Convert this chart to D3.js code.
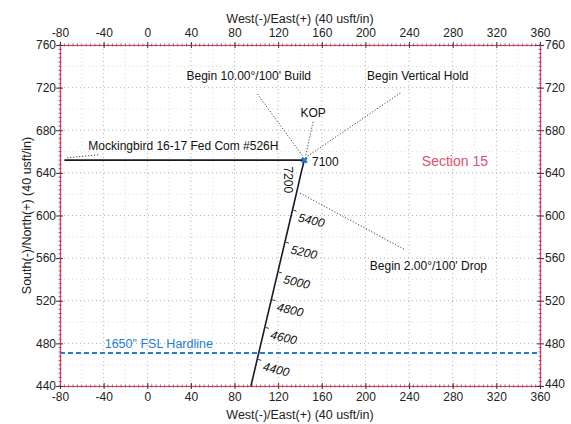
<!DOCTYPE html>
<html><head><meta charset="utf-8">
<script src="https://cdn.jsdelivr.net/npm/d3@7"></script>
<style>
body{margin:0;background:#fff;}
svg{display:block;font-family:"Liberation Sans",Arial,sans-serif;}
</style></head><body>
<svg id="c" width="571" height="424"></svg>
<script>
// ---- data ----
const xTicks = [-80,-40,0,40,80,120,160,200,240,280,320,360];
const yTicks = [440,480,520,560,600,640,680,720,760];
const wellPath = [[95,440],[137,622],[141,640],[144,652],[-76,652]];
const kop = [144,652];
const mdLabels = ["4400","4600","4800","5000","5200","5400"];
const mdNorth = [465,495,521,547,575,605];
const hardlineNorth = 471;
const annotations = [
  {text:"Begin 10.00°/100' Build", x:93, y:727, anchor:"middle", lx1:101, ly1:714, lx2:143, ly2:655},
  {text:"Begin Vertical Hold", x:248, y:727, anchor:"middle", lx1:232, ly1:715, lx2:146, ly2:655},
  {text:"KOP", x:152, y:692, anchor:"middle", lx1:152, ly1:688, lx2:145, ly2:655},
  {text:"Mockingbird 16-17 Fed Com #526H", x:-54, y:661, anchor:"start", lx1:-45, ly1:657, lx2:-75, ly2:654},
  {text:"Begin 2.00°/100' Drop", x:204, y:549, anchor:"start", lx1:140, ly1:621, lx2:236, ly2:568}
];

// ---- layout ----
const svg = d3.select("#c");
const L=60, R=540, T=45, B=386;
const x = d3.scaleLinear().domain([-80,360]).range([L,R]);
const y = d3.scaleLinear().domain([440,760]).range([B,T]);

// grid
const g = svg.append("g");
const minorX = d3.range(-80,361,20), minorY = d3.range(440,761,20);
g.selectAll(".gx").data(minorX).join("line")
  .attr("x1",d=>x(d)).attr("x2",d=>x(d)).attr("y1",T).attr("y2",B)
  .attr("stroke",d=>d%40===0?"#a0a0a0":"#d6d6d6").attr("stroke-width",0.8).attr("stroke-dasharray","1,3");
g.selectAll(".gy").data(minorY).join("line")
  .attr("y1",d=>y(d)).attr("y2",d=>y(d)).attr("x1",L).attr("x2",R)
  .attr("stroke",d=>d%40===0?"#a0a0a0":"#d6d6d6").attr("stroke-width",0.8).attr("stroke-dasharray","1,3");

// hardline
svg.append("line").attr("x1",L).attr("x2",R).attr("y1",y(hardlineNorth)).attr("y2",y(hardlineNorth))
  .attr("stroke","#1f7fd0").attr("stroke-width",2).attr("stroke-dasharray","5,3");
svg.append("text").attr("x",x(-39)).attr("y",y(475.5)).attr("fill","#1f7fd0")
  .attr("font-size",12.5).text("1650\" FSL Hardline");

// axes frame
const fmt = d => String(d);
const axB = d3.axisBottom(x).tickValues(xTicks).tickFormat(fmt).tickSize(4).tickSizeOuter(0);
const axT = d3.axisTop(x).tickValues(xTicks).tickFormat(fmt).tickSize(4).tickSizeOuter(0);
const axL = d3.axisLeft(y).tickValues(yTicks).tickFormat(fmt).tickSize(5).tickSizeOuter(0);
const axR = d3.axisRight(y).tickValues(yTicks).tickFormat(fmt).tickSize(5).tickSizeOuter(0);
function styleAxis(sel){
  sel.select(".domain").attr("stroke","#d04060").attr("stroke-width",1.2);
  sel.selectAll(".tick line").attr("stroke","#333");
  sel.selectAll(".tick text").attr("fill","#222").attr("font-size",12).attr("font-family","Liberation Sans, Arial, sans-serif");
}
const gb = svg.append("g").attr("transform",`translate(0,${B})`).call(axB); styleAxis(gb);
gb.selectAll(".tick line").attr("y1",-3).attr("y2",3);
gb.selectAll(".tick text").attr("dy","0.55em").attr("y",8);
const gt = svg.append("g").attr("transform",`translate(0,${T})`).call(axT); styleAxis(gt);
gt.selectAll(".tick line").attr("y1",3).attr("y2",-3);
gt.selectAll(".tick text").attr("y",-8);
const gl = svg.append("g").attr("transform",`translate(${L},0)`).call(axL); styleAxis(gl);
gl.selectAll(".tick line").attr("x1",3).attr("x2",-4);
gl.selectAll(".tick text").attr("x",-4);
const gr = svg.append("g").attr("transform",`translate(${R},0)`).call(axR); styleAxis(gr);
gr.selectAll(".tick line").attr("x1",-3).attr("x2",4);
gr.selectAll(".tick text").attr("x",5);
gr.selectAll(".tick").filter(d=>d===440).select("text").attr("dy","0.1em");

// minor frame ticks
const mX = d3.range(-80,361,4), mY = d3.range(440,761,4);
[T,B].forEach(yy=>{
  svg.append("g").selectAll("line").data(mX).join("line")
    .attr("x1",d=>x(d)).attr("x2",d=>x(d)).attr("y1",yy-1.5).attr("y2",yy+1.5)
    .attr("stroke","#b03050").attr("stroke-width",0.8);
});
[L,R].forEach(xx=>{
  svg.append("g").selectAll("line").data(mY).join("line")
    .attr("y1",d=>y(d)).attr("y2",d=>y(d)).attr("x1",xx-1.5).attr("x2",xx+1.5)
    .attr("stroke","#b03050").attr("stroke-width",0.8);
});

// axis titles
svg.append("text").attr("x",(L+R)/2).attr("y",23).attr("text-anchor","middle").attr("font-size",12.5).attr("fill","#222")
  .text("West(-)/East(+) (40 usft/in)");
svg.append("text").attr("x",(L+R)/2).attr("y",419).attr("text-anchor","middle").attr("font-size",12.5).attr("fill","#222")
  .text("West(-)/East(+) (40 usft/in)");
svg.append("text").attr("transform",`translate(31,${(T+B)/2}) rotate(-90)`).attr("text-anchor","middle")
  .attr("font-size",12.5).attr("fill","#222").text("South(-)/North(+) (40 usft/in)");

// leaders
svg.append("g").selectAll("line").data(annotations).join("line")
  .attr("x1",d=>x(d.lx1)).attr("y1",d=>y(d.ly1)).attr("x2",d=>x(d.lx2)).attr("y2",d=>y(d.ly2))
  .attr("stroke","#444").attr("stroke-width",1).attr("stroke-dasharray","1.2,1.8");
svg.append("g").selectAll("text").data(annotations).join("text")
  .attr("x",d=>x(d.x)).attr("y",d=>y(d.y)).attr("text-anchor",d=>d.anchor)
  .attr("font-size",12).attr("fill","#111").text(d=>d.text);

// well path
const line = d3.line().x(d=>x(d[0])).y(d=>y(d[1]));
svg.append("path").attr("d",line(wellPath)).attr("fill","none").attr("stroke","#1a1a2a").attr("stroke-width",1.6);

// MD ticks & labels along the vertical-ish segment
function eastAt(n){
  const a=wellPath[0], b=wellPath[1];
  return a[0]+(b[0]-a[0])*(n-a[1])/(b[1]-a[1]);
}
const ang = Math.atan2(x(wellPath[1][0])-x(wellPath[0][0]), y(wellPath[0][1])-y(wellPath[1][1]))*180/Math.PI;
mdLabels.forEach((t,i)=>{
  const px=x(eastAt(mdNorth[i])), py=y(mdNorth[i]);
  svg.append("line").attr("x1",px+1).attr("x2",px+4).attr("y1",py).attr("y2",py+1).attr("stroke","#333").attr("stroke-width",1);
  svg.append("text").attr("transform",`translate(${px+5},${py+11}) rotate(${ang})`)
    .attr("font-size",12).attr("fill","#111").attr("font-style","italic").text(t);
});
svg.append("text").attr("transform",`translate(${x(129)-4},${y(646)}) rotate(90)`)
  .attr("font-size",12).attr("fill","#111").text("7200");
svg.append("text").attr("x",x(151)).attr("y",y(646.5)).attr("font-size",12).attr("fill","#111").text("7100");

// KOP marker
svg.append("path").attr("d",d3.symbol(d3.symbolCross,28)()).attr("transform",`translate(${x(kop[0])},${y(kop[1])}) rotate(45)`)
  .attr("fill","#2a70c8");

// section label
svg.append("text").attr("x",x(282)).attr("y",y(646.5)).attr("text-anchor","middle").attr("font-size",14)
  .attr("fill","#e0506e").text("Section 15");
</script>
</body></html>
